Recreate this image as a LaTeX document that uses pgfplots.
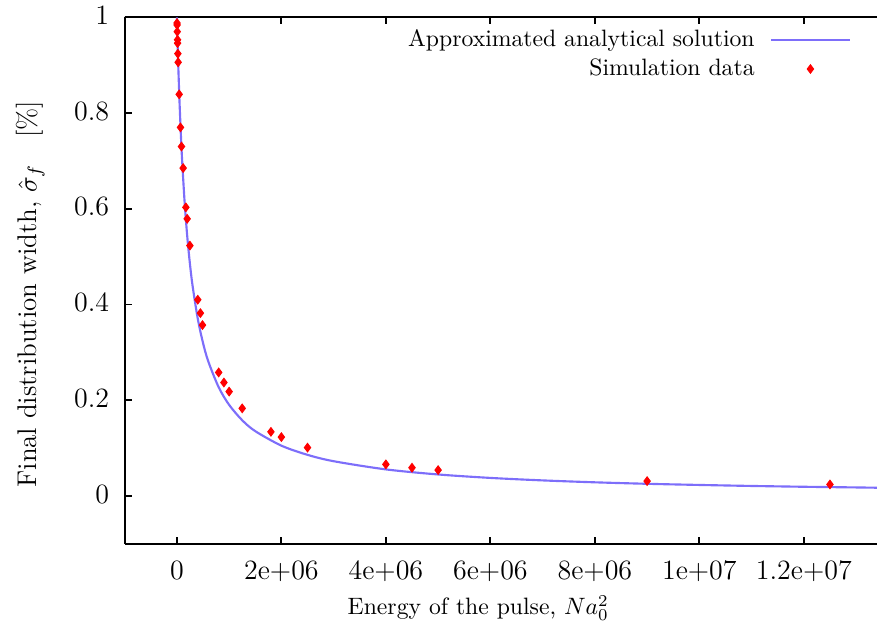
\documentclass[border=0pt]{standalone}
\usepackage{pgfplots}
\pgfplotsset{compat=1.18}
\definecolor{curvecol}{RGB}{125,110,250}
\begin{document}
\begin{tikzpicture}
\begin{axis}[
  scale only axis,
  width=317.5pt, height=222.2pt,
  xmin=-1e6, xmax=1.34e7,
  ymin=-0.1, ymax=1,
  axis y line*=left,
  axis x line*=box,
  axis line style={line width=0.8pt},
  every tick/.style={black, line width=0.8pt},
  major tick length=3pt,
  tick align=inside,
  xtick={0,2e6,4e6,6e6,8e6,1e7,1.2e7},
  xticklabels={0,2e+06,4e+06,6e+06,8e+06,1e+07,1.2e+07},
  ytick={0,0.2,0.4,0.6,0.8,1},
  yticklabels={0,0.2,0.4,0.6,0.8,1},
  tick label style={font=\fontsize{11.8}{14}\selectfont},
  xticklabel style={yshift=-3.6pt},
  yticklabel style={xshift=-3pt, yshift=0.8pt},
  scaled x ticks=false,
  xlabel={Energy of the pulse, $Na_0^2$},
  ylabel={Final distribution width, $\hat{\sigma}_f$\quad[\%]},
  xlabel style={at={(axis description cs:0.47,-0.1348)}, anchor=base},
  ylabel style={at={(axis description cs:-0.117,0.474)}, anchor=base, font=\fontsize{11.4}{13}\selectfont},
  legend plot pos=right,
  legend cell align=right,
  legend style={at={(axis description cs:0.975,0.996)}, anchor=north east,
    draw=none, fill=none, row sep=-0.2pt, column sep=4.6pt},
  legend image code/.code={\draw[mark repeat=2,mark phase=2,#1] plot coordinates {(0cm,0cm) (0.58cm,0cm) (1.16cm,0cm)};},
]
\addplot[curvecol, line width=0.9pt, smooth, no marks] coordinates {
(0,1) (10000,0.9592) (25000,0.9038) (50000,0.8246) (75000,0.7581)
(100000,0.7015) (150000,0.6104) (200000,0.5402) (250000,0.4845)
(300000,0.4393) (400000,0.3701) (500000,0.3197) (600000,0.2814)
(800000,0.2271) (1000000,0.1903) (1250000,0.1582) (1500000,0.1354)
(2000000,0.1051) (2500000,0.0859) (3000000,0.0726) (4000000,0.0555)
(5000000,0.0449) (6000000,0.0377) (7000000,0.0325) (8000000,0.0285)
(9000000,0.0254) (10000000,0.0230) (11000000,0.0209) (12000000,0.0192)
(13000000,0.0178) (13400000,0.0172)
};
\addlegendentry{Approximated analytical solution}
\addplot[only marks, mark=diamond*, mark size=1.8pt, color=red] coordinates {
(3000,0.988) (4000,0.984) (7000,0.970) (12000,0.953) (13000,0.946)
(19000,0.924) (24000,0.906) (44000,0.839) (69000,0.770) (88000,0.730)
(120000,0.685) (172000,0.603) (197000,0.579) (249000,0.523)
(400000,0.410) (450000,0.382) (490000,0.357) (800000,0.258)
(900000,0.237) (1000000,0.218) (1250000,0.183) (1800000,0.134)
(2000000,0.123) (2500000,0.101) (4000000,0.066) (4500000,0.059)
(5000000,0.054) (9000000,0.031) (12500000,0.024)
};
\addlegendentry{Simulation data}
\end{axis}
\pgfresetboundingbox
\path ([shift={(-52.6pt,-38pt)}]current axis.south west) rectangle ([shift={(0pt,7.3pt)}]current axis.north east);
\end{tikzpicture}
\end{document}
